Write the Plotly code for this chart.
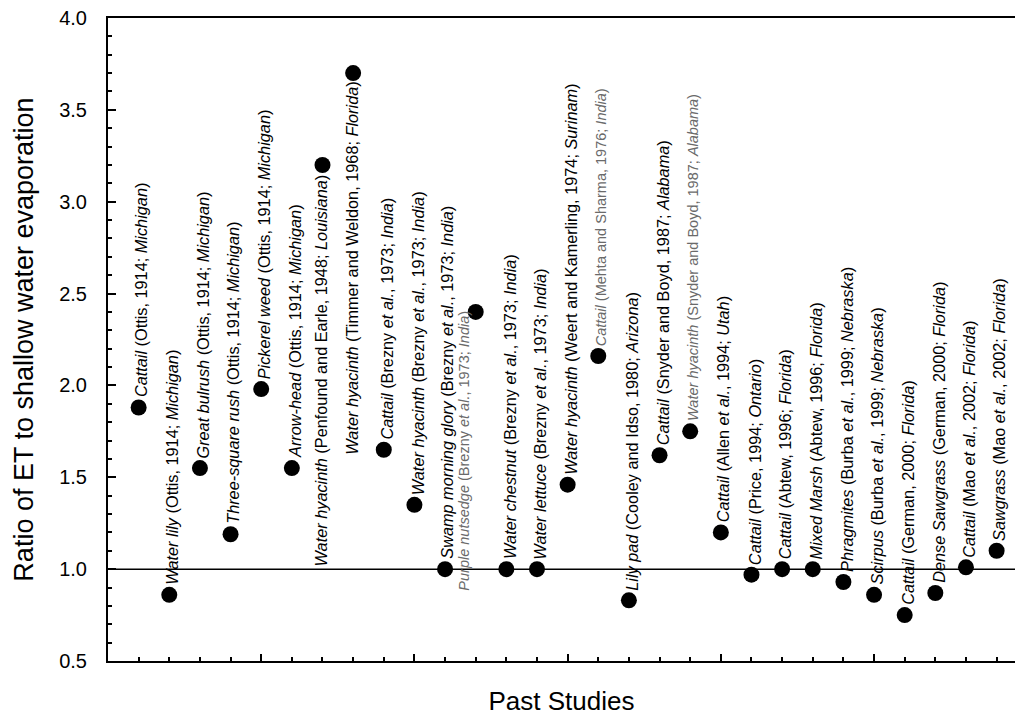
import plotly.graph_objects as go

# ---------------- data ----------------
STUDY_NO = [1, 2, 3, 4, 5, 6, 7, 8, 9, 10, 11, 12, 13, 14, 15,
            16, 17, 18, 19, 20, 21, 22, 23, 24, 25, 26, 27, 28, 29]

RATIO = [1.88, 0.86, 1.55, 1.19, 1.98, 1.55, 3.20, 3.70, 1.65, 1.35,
         1.00, 2.40, 1.00, 1.00, 1.46, 2.16, 0.83, 1.62, 1.75, 1.20,
         0.97, 1.00, 1.00, 0.93, 0.86, 0.75, 0.87, 1.01, 1.10]

SPECIES = ["Cattail", "Water lily", "Great bulrush", "Three-square rush",
           "Pickerel weed", "Arrow-head", "Water hyacinth", "Water hyacinth",
           "Cattail", "Water hyacinth", "Swamp morning glory", "Purple nutsedge",
           "Water chestnut", "Water lettuce", "Water hyacinth", "Cattail",
           "Lily pad", "Cattail", "Water hyacinth", "Cattail", "Cattail",
           "Cattail", "Mixed Marsh", "Phragmites", "Scirpus", "Cattail",
           "Dense Sawgrass", "Cattail", "Sawgrass"]

CITATION = ["Ottis, 1914", "Ottis, 1914", "Ottis, 1914", "Ottis, 1914",
            "Ottis, 1914", "Ottis, 1914", "Penfound and Earle, 1948",
            "Timmer and Weldon, 1968", "Brezny et al., 1973", "Brezny et al., 1973",
            "Brezny et al., 1973", "Brezny et al., 1973", "Brezny et al., 1973",
            "Brezny et al., 1973", "Weert and Kamerling, 1974",
            "Mehta and Sharma, 1976", "Cooley and Idso, 1980",
            "Snyder and Boyd, 1987", "Snyder and Boyd, 1987", "Allen et al., 1994",
            "Price, 1994", "Abtew, 1996", "Abtew, 1996", "Burba et al., 1999",
            "Burba et al., 1999", "German, 2000", "German, 2000",
            "Mao et al., 2002", "Mao et al., 2002"]

LOCATION = ["Michigan", "Michigan", "Michigan", "Michigan", "Michigan",
            "Michigan", "Louisiana", "Florida", "India", "India", "India",
            "India", "India", "India", "Surinam", "India", "Arizona", "Alabama",
            "Alabama", "Utah", "Ontario", "Florida", "Florida", "Nebraska",
            "Nebraska", "Florida", "Florida", "Florida", "Florida"]

REFERENCE_RATIO = 1.0

# ---------------- label styling (kept apart from the data) ----------------
LABELS_BELOW = {7, 8, 12}      # studies whose label hangs below the point
LABELS_MUTED = {12, 16, 19}    # studies drawn with a light grey label

FONT = "Liberation Sans, Arial, sans-serif"


def label_text(sp, cit, loc):
    cit = cit.replace("et al.", "<i>et al.</i>")
    return f"<i>{sp}</i> ({cit}; <i>{loc}</i>)"


fig = go.Figure()
fig.add_trace(go.Scatter(
    x=STUDY_NO, y=RATIO, mode="markers",
    marker=dict(size=16, color="black"),
    showlegend=False, hoverinfo="skip", cliponaxis=False,
))

fig.add_hline(y=REFERENCE_RATIO, line=dict(color="black", width=1.5))

annotations = []
for n, y, sp, cit, loc in zip(STUDY_NO, RATIO, SPECIES, CITATION, LOCATION):
    muted = n in LABELS_MUTED
    below = n in LABELS_BELOW
    ann = dict(
        x=n, y=y, xref="x", yref="y",
        text=label_text(sp, cit, loc),
        textangle=-90, showarrow=False,
        font=dict(family=FONT, size=14.5 if muted else 16.3,
                  color="#6a6a6a" if muted else "black"),
        xanchor="center",
        yanchor="top" if below else "bottom",
        borderpad=0,
    )
    if below:
        if n == 12:
            ann.update(xshift=-12, yshift=2)
        else:
            ann.update(xshift=-2, yshift=-8)
    else:
        ann.update(xshift=2 if n == 11 else 3, yshift=9)
    annotations.append(ann)

fig.update_layout(
    width=1015, height=717,
    margin=dict(l=108, r=0, t=18, b=56, autoexpand=False),
    paper_bgcolor="white", plot_bgcolor="white",
    font=dict(family=FONT, color="black"),
    annotations=annotations,
    xaxis=dict(
        range=[0, 29.6], showgrid=False, zeroline=False,
        showline=True, linecolor="black", linewidth=2, mirror=True,
        ticks="inside", tick0=0, dtick=5, ticklen=7, tickwidth=2,
        tickcolor="black", showticklabels=False,
        minor=dict(tick0=0, dtick=1, ticks="inside", ticklen=4,
                   tickwidth=1.5, tickcolor="black", showgrid=False),
        title=dict(text="Past Studies", font=dict(size=26, family=FONT),
                   standoff=30),
        automargin=False,
    ),
    yaxis=dict(
        range=[0.5, 4.0], showgrid=False, zeroline=False,
        showline=True, linecolor="black", linewidth=2, mirror=False,
        ticks="inside", tick0=0.5, dtick=0.5, ticklen=8, tickwidth=2,
        tickcolor="black", tickformat=".1f",
        tickfont=dict(size=20, family=FONT),
        ticklabelstandoff=15,
        minor=dict(dtick=0.1, ticks="inside", ticklen=4, tickwidth=1.5,
                   tickcolor="black", showgrid=False),
        title=dict(text="Ratio of ET to shallow water evaporation",
                   font=dict(size=27, family=FONT), standoff=18),
        automargin=False,
    ),
)

fig.write_html("out.html")
